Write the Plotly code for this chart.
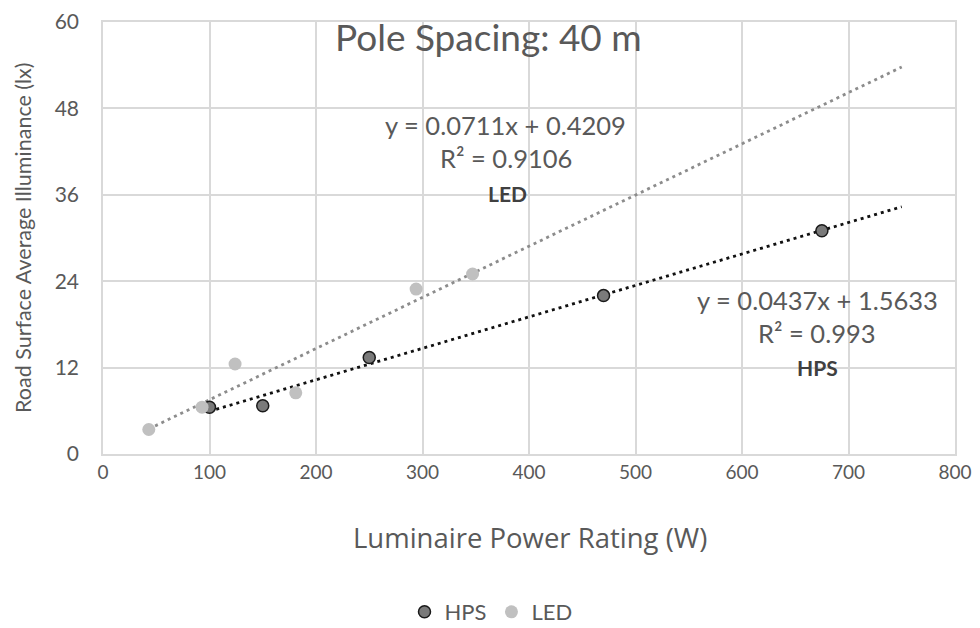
import plotly.graph_objects as go
import numpy as np

# Data
hps_x = [100, 150, 250, 470, 675]
hps_y = [6.5, 6.7, 13.4, 22.0, 31.0]
led_x = [43, 93, 124, 181, 294, 347]
led_y = [3.4, 6.5, 12.5, 8.5, 22.9, 25.0]

hps_slope, hps_intercept = 0.0437, 1.5633
led_slope, led_intercept = 0.0711, 0.4209
trend_end = 750

x_ticks = [0, 100, 200, 300, 400, 500, 600, 700, 800]
y_ticks = [0, 12, 24, 36, 48, 60]

FONT = "Lato, Open Sans, sans-serif"
GRAY = "#595959"

fig = go.Figure()

# Trendlines
lx = np.array([min(led_x), trend_end])
hx = np.array([min(hps_x), trend_end])
fig.add_trace(go.Scatter(x=lx, y=led_slope * lx + led_intercept, mode="lines",
                         line=dict(color="#8c8c8c", width=2.8, dash="3px,4px"),
                         showlegend=False, hoverinfo="skip"))
fig.add_trace(go.Scatter(x=hx, y=hps_slope * hx + hps_intercept, mode="lines",
                         line=dict(color="#111111", width=2.8, dash="3px,4px"),
                         showlegend=False, hoverinfo="skip"))

fig.add_trace(go.Scatter(x=hps_x, y=hps_y, mode="markers", name="HPS",
                         marker=dict(size=12, color="#7a7a7a",
                                     line=dict(color="#1a1a1a", width=1.5))))
fig.add_trace(go.Scatter(x=led_x, y=led_y, mode="markers", name="LED",
                         marker=dict(size=13, color="#c0c0c0",
                                     line=dict(width=0))))

# page body has an 8px margin: lay the figure out in viewport pixels minus 8
OFF = 8
VW, VH = 980, 628
W, H = VW - OFF, VH - OFF
L, R, T, B = 103 - OFF, 25, 22 - OFF, 174
pw, ph = W - L - R, H - T - B

eq_font = dict(family=FONT, size=25.5, color=GRAY)
bold_font = dict(family=FONT, size=21, color="#404040")
# (viewport pixel x, viewport pixel y, text, font, angle)
texts = [
    (488, 37, "Pole Spacing: 40 m", dict(family=FONT, size=37, color=GRAY), 0),
    (505, 125, "y = 0.0711x + 0.4209", eq_font, 0),
    (506, 158, "R² = 0.9106", eq_font, 0),
    (507, 193, "<b>LED</b>", bold_font, 0),
    (817, 300, "y = 0.0437x + 1.5633", eq_font, 0),
    (817, 333, "R² = 0.993", eq_font, 0),
    (817, 367, "<b>HPS</b>", bold_font, 0),
    (530, 537, "Luminaire Power Rating (W)",
     dict(family="Open Sans, sans-serif", size=27.5, color=GRAY), 0),
    (23, 238, "Road Surface Average Illuminance (lx)",
     dict(family=FONT, size=21.5, color=GRAY), -90),
]
anns = []
for px, py, txt, fnt, ang in texts:
    fx, fy = px - OFF, py - OFF
    anns.append(dict(x=(fx - L) / pw, y=(H - B - fy) / ph, xref="paper", yref="paper",
                     text=txt, font=fnt, showarrow=False, textangle=ang,
                     xanchor="center", yanchor="middle"))

fig.update_layout(
    width=W, height=H,
    margin=dict(l=L, r=R, t=T, b=B, autoexpand=False),
    paper_bgcolor="white", plot_bgcolor="white",
    annotations=anns,
    legend=dict(orientation="h", x=(491 - 103) / 852, xanchor="center",
                y=(H - B - (612 - OFF)) / ph, yanchor="middle",
                font=dict(family=FONT, size=22, color=GRAY),
                itemwidth=30),
    font=dict(family=FONT, color=GRAY),
)
fig.update_xaxes(range=[0, 800], tickvals=x_ticks, ticktext=[str(v) for v in x_ticks],
                 showgrid=True, gridcolor="#d9d9d9", gridwidth=1.5,
                 showline=True, linecolor="#d9d9d9", linewidth=1.5, mirror=True,
                 zeroline=False, ticks="", ticklabelstandoff=0, automargin=False,
                 ticklabeloverflow="allow",
                 tickfont=dict(family=FONT, size=19, color=GRAY))
fig.update_yaxes(range=[0, 60], tickvals=y_ticks, ticktext=[str(v) for v in y_ticks],
                 showgrid=True, gridcolor="#d9d9d9", gridwidth=1.5,
                 showline=True, linecolor="#d9d9d9", linewidth=1.5, mirror=True,
                 zeroline=False, ticks="", ticklabelstandoff=18, automargin=False,
                 ticklabeloverflow="allow",
                 tickfont=dict(family=FONT, size=21, color=GRAY))

fig.write_html("out.html")
